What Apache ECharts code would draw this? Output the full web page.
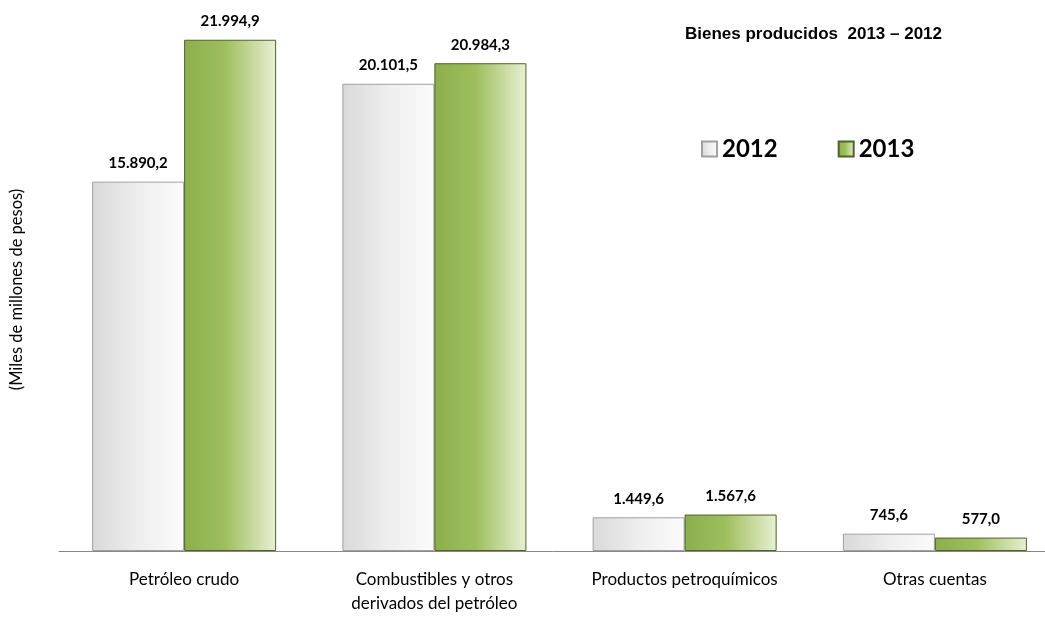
<!DOCTYPE html>
<html>
<head>
<meta charset="utf-8">
<script src="https://cdn.jsdelivr.net/npm/echarts@6/dist/echarts.min.js"></script>
<style>
  html, body { margin: 0; padding: 0; background: #fff; }
  #chart { width: 1045px; height: 617px; }
</style>
</head>
<body>
<div id="chart"></div>
<script>
var categories = ['Petróleo crudo', 'Combustibles y otros\nderivados del petróleo', 'Productos petroquímicos', 'Otras cuentas'];
var serie2012 = [15890.2, 20101.5, 1449.6, 745.6];
var serie2013 = [21994.9, 20984.3, 1567.6, 577.0];

// formato es: 21.994,9
function fmt(v) {
    var parts = v.toFixed(1).split('.');
    var ent = parts[0].replace(/\B(?=(\d{3})+(?!\d))/g, '.');
    return ent + ',' + parts[1];
}

var gris = new echarts.graphic.LinearGradient(0, 0, 1, 0, [
    {offset: 0, color: '#d9d9d9'},
    {offset: 0.5, color: '#eeeeee'},
    {offset: 1, color: '#fbfbfb'}
]);
var verde = new echarts.graphic.LinearGradient(0, 0, 1, 0, [
    {offset: 0, color: '#8cae4c'},
    {offset: 0.45, color: '#9fbf5e'},
    {offset: 1, color: '#e8f0d4'}
]);

var etiqueta = {
    show: true,
    position: 'top',
    distance: 11,
    fontFamily: 'Lato',
    fontWeight: 'bold',
    fontSize: 15,
    color: '#000',
    formatter: function (p) { return fmt(p.value); }
};

var option = {
    animation: false,
    title: {
        text: 'Bienes producidos  2013 – 2012',
        left: 680,
        top: 21,
        textStyle: {
            fontFamily: 'Liberation Sans',
            fontSize: 17,
            fontWeight: 'bold',
            color: '#000'
        }
    },
    legend: {
        data: ['2012', '2013'],
        left: 696,
        top: 132,
        icon: 'rect',
        itemWidth: 15,
        itemHeight: 15,
        itemGap: 60,
        textStyle: {
            fontFamily: 'Lato',
            fontSize: 24,
            fontWeight: 'bold',
            color: '#000'
        }
    },
    grid: {
        left: 59,
        width: 1001,
        top: 28,
        bottom: 66,
        outerBoundsMode: 'none'
    },
    xAxis: {
        type: 'category',
        data: categories,
        axisTick: {show: false},
        axisLine: {lineStyle: {color: '#888', width: 1}},
        axisLabel: {
            color: '#000',
            fontFamily: 'Lato',
            fontSize: 17,
            lineHeight: 24,
            margin: 17
        }
    },
    yAxis: {
        type: 'value',
        min: 0,
        max: 22500,
        splitLine: {show: false},
        axisLabel: {show: false},
        axisLine: {show: false},
        axisTick: {show: false},
        name: '(Miles de millones de pesos)',
        nameLocation: 'middle',
        nameGap: 34,
        nameRotate: 90,
        nameTextStyle: {
            fontFamily: 'Lato',
            fontSize: 16.5,
            color: '#000'
        }
    },
    series: [
        {
            name: '2012',
            type: 'bar',
            data: serie2012,
            barWidth: 92,
            barGap: '0%',
            itemStyle: {color: gris, borderColor: '#a0a0a0', borderWidth: 1},
            label: etiqueta
        },
        {
            name: '2013',
            type: 'bar',
            data: serie2013,
            barWidth: 92,
            barGap: '0%',
            itemStyle: {color: verde, borderColor: '#4f6228', borderWidth: 1},
            label: etiqueta
        }
    ]
};

var chart = echarts.init(document.getElementById('chart'));
chart.setOption(option);
</script>
</body>
</html>
